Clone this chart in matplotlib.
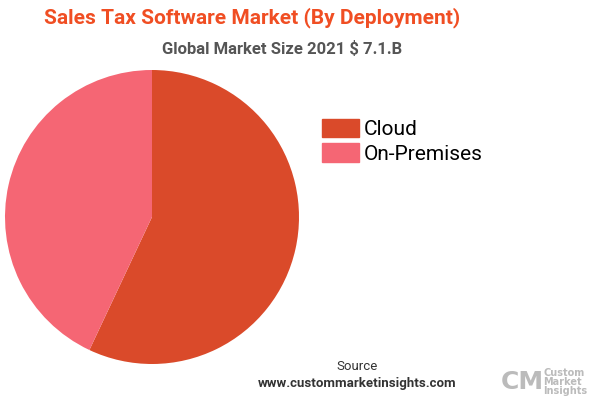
import matplotlib
matplotlib.use("Agg")
import matplotlib.pyplot as plt

categories = ["Cloud", "On-Premises"]
values = [57, 43]
colors = ["#DA4A2A", "#F56674"]

fig = plt.figure(figsize=(6, 4), dpi=100)
ax = fig.add_axes([5/600, 36/400, 294/600, 294/400])
ax.pie(values, colors=colors, startangle=90, counterclock=False, radius=1)
ax.set_xlim(-1, 1)
ax.set_ylim(-1, 1)

fig.text(0.42, 0.955, "Sales Tax Software Market (By Deployment)", ha="center", va="center",
         fontsize=15, fontweight="bold", color="#F04E23", family="Roboto")
fig.text(0.47, 0.877, "Global Market Size 2021 $ 7.1.B", ha="center", va="center",
         fontsize=12, fontweight="bold", color="#555555", family="Roboto")

handles = [plt.Rectangle((0, 0), 1, 1, color=c) for c in colors]
fig.legend(handles, categories, loc="upper left", bbox_to_anchor=(0.505, 0.75),
           frameon=False, handlelength=1.8, handleheight=1.0,
           labelspacing=0.2, handletextpad=0.2, prop={"family": "Roboto", "size": 15})

fig.text(0.595, 0.085, "Source", ha="center", va="center", fontsize=9.5, color="#333333", family="Roboto")
fig.text(0.595, 0.04, "www.custommarketinsights.com", ha="center", va="center", fontsize=9.5,
         fontweight="bold", color="#333333", family="Roboto")
fig.text(0.835, 0.045, "CM", ha="left", va="center", fontsize=18, fontweight="bold", color="#BBBBBB")
fig.text(0.905, 0.045, "Custom\nMarket\nInsights", ha="left", va="center", fontsize=7,
         fontweight="bold", color="#BBBBBB", linespacing=0.9)

fig.savefig("out.png", dpi=100)
